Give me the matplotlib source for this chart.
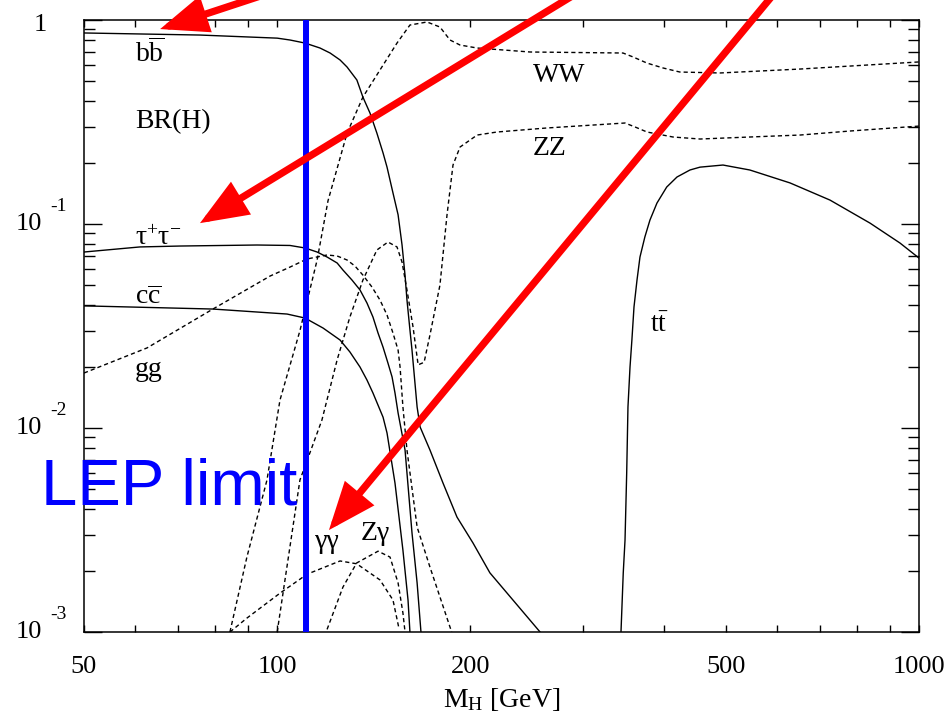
import matplotlib
matplotlib.use("Agg")
import matplotlib.pyplot as plt
from matplotlib.patches import FancyArrowPatch

plt.rcParams['font.family'] = ['Liberation Serif', 'DejaVu Serif']
plt.rcParams['mathtext.fontset'] = 'custom'
plt.rcParams['mathtext.rm'] = 'Liberation Serif'
plt.rcParams['mathtext.it'] = 'Liberation Serif:italic'

# Higgs branching ratios vs. mass (GeV)
bb_m = [50, 75.8, 100, 104.7, 110.5, 116.6, 120.9, 125.3, 128.5, 133.1, 136, 139.5,
        143, 146.2, 148.3, 151.5, 154.3, 156.5, 158.2, 159.3, 161, 162.2, 165.2, 167,
        173, 181.3, 190.6, 201.9, 214.5, 256.8]
bb_br = [0.864, 0.844, 0.815, 0.798, 0.771, 0.729, 0.689, 0.637, 0.588, 0.508, 0.419,
         0.350, 0.279, 0.223, 0.190, 0.142, 0.111, 0.079, 0.056, 0.0424, 0.0303,
         0.0241, 0.01268, 0.01011, 0.0078, 0.00537, 0.00366, 0.00273, 0.00195, 0.001]

tau_m = [50, 61.1, 70.6, 93, 104.7, 110.5, 115.4, 119.6, 124, 126.6, 130.8, 134.6,
         138, 141, 143.6, 146.2, 148.8, 151, 152.6, 154.3, 158.2, 162.2, 165.2, 167.5]
tau_br = [0.0729, 0.0772, 0.078, 0.0789, 0.0785, 0.0763, 0.0729, 0.0689, 0.0644,
          0.0595, 0.0531, 0.0475, 0.041, 0.035, 0.0292, 0.0249, 0.0208, 0.0178,
          0.01485, 0.01185, 0.0078, 0.00306, 0.00174, 0.001]

cc_m = [50, 79.4, 103.6, 110.5, 117.9, 125.3, 129.8, 134.6, 138, 141, 146.2, 148.3,
        152.6, 157, 159.9, 161]
cc_br = [0.0397, 0.0383, 0.0362, 0.0346, 0.0309, 0.027, 0.0236, 0.0199, 0.01719,
         0.01485, 0.0113, 0.00945, 0.00537, 0.00252, 0.001435, 0.001]

gg_m = [50, 62.7, 79.4, 97.5, 104.7, 111.3, 119.6, 124, 128.5, 132.2, 136, 140.5,
        144.6, 148.3, 151.5, 154.3, 155.4, 157, 159.3, 165.2, 173, 187]
gg_br = [0.0186, 0.0247, 0.0383, 0.0556, 0.0615, 0.0674, 0.0705, 0.0697, 0.0666,
         0.0622, 0.0562, 0.0491, 0.0424, 0.0358, 0.0292, 0.0241, 0.0199, 0.01268,
         0.0078, 0.00327, 0.00208, 0.001]

ww_m = [84.4, 89.7, 96.4, 101, 108.5, 115.4, 120, 128.5, 136, 144.6, 153.7, 161, 171.2,
        179.3, 185.9, 192.7, 204.9, 247.7, 345.8, 358.5, 376.9, 399.2, 424, 489.7,
        652.6, 1000]
ww_br = [0.001, 0.00233, 0.00556, 0.0137, 0.030, 0.0666, 0.13, 0.279, 0.419, 0.569,
         0.771, 0.945, 0.978, 0.924, 0.798, 0.754, 0.729, 0.697, 0.689, 0.659, 0.615,
         0.582, 0.556, 0.55, 0.575, 0.623]

zz_m = [100, 108.5, 117.4, 124, 129.8, 136, 143, 148.8, 153.7, 156.5, 159.3, 162.8,
        165.8, 169.4, 173, 179.3, 183.9, 187.9, 192.7, 204.9, 220, 263, 348.3, 362,
        376.9, 413.7, 455.8, 545, 652.6, 781, 1000]
zz_br = [0.001, 0.00556, 0.01094, 0.0216, 0.035, 0.0531, 0.0746, 0.0816, 0.0772, 0.0651,
         0.0475, 0.0313, 0.0204, 0.021, 0.0286, 0.0502, 0.1107, 0.1946, 0.2384, 0.273,
         0.2825, 0.2956, 0.3127, 0.298, 0.2825, 0.267, 0.261, 0.267, 0.273, 0.2857,
         0.302]

aa_m = [84.4, 89.7, 101, 111.3, 125.3, 133, 144.6, 151.5, 154.8]
aa_br = [0.001, 0.00117, 0.00155, 0.00192, 0.00223, 0.00216, 0.0018, 0.001435, 0.00104]

za_m = [119.6, 126.6, 133, 143.6, 149.9, 154.3, 157, 158.2]
za_br = [0.00103, 0.00166, 0.00218, 0.00249, 0.00233, 0.00174, 0.00124, 0.001]

tt_m = [343.3, 346.1, 348.3, 350.4, 352, 354.6, 357, 359.7, 363.6, 367.5, 374, 380.9,
        390.6, 404.5, 419.7, 439.7, 455.8, 495, 545, 629.6, 726.7, 839, 934, 1000]
tt_br = [0.001, 0.00195, 0.00282, 0.00602, 0.01268, 0.0199, 0.027, 0.0392, 0.0531,
         0.0689, 0.0864, 0.1046, 0.1267, 0.1518, 0.170, 0.184, 0.190, 0.1946, 0.184,
         0.159, 0.131, 0.101, 0.0807, 0.0681]

lep_limit = 111

fig = plt.figure(figsize=(9.48, 7.2), dpi=100)
ax = fig.add_axes([0.0886, 0.1222, 0.8808, 0.85])
ax.set_xscale('log')
ax.set_yscale('log')
ax.set_xlim(50, 1000)
ax.set_ylim(1e-3, 1)

solid = dict(color='black', lw=1.0, ls='-')
dashed = dict(color='black', lw=1.0, ls=(0, (3.0, 2.2)))
ax.plot(bb_m, bb_br, **solid)
ax.plot(tau_m, tau_br, **solid)
ax.plot(cc_m, cc_br, **solid)
ax.plot(tt_m, tt_br, **solid)
ax.plot(gg_m, gg_br, **dashed)
ax.plot(ww_m, ww_br, **dashed)
ax.plot(zz_m, zz_br, **dashed)
ax.plot(aa_m, aa_br, **dashed)
ax.plot(za_m, za_br, **dashed)

ax.axvline(lep_limit, color='#0000ff', lw=4.3, zorder=5)

# channel labels
lab = dict(fontsize=20, ha='left', va='baseline')
ax.text(60, 0.622, r'$\mathrm{b}\overline{\mathrm{b}}$', **lab)
ax.text(60, 0.296, 'BR(H)', **lab)
ax.text(60, 0.0789, r'$\mathrm{\tau^{+}\tau^{-}}$', **lab)
ax.text(60, 0.0405, r'$\mathrm{c}\overline{\mathrm{c}}$', **lab)
ax.text(60, 0.0180, 'gg', **lab)
ax.text(250, 0.497, 'WW', **lab)
ax.text(250, 0.218, 'ZZ', **lab)
ax.text(381, 0.0296, r'$\mathrm{t\bar{t}}$', **lab)
ax.text(114.5, 0.00258, 'γγ', **lab)
ax.text(135.1, 0.00283, 'Zγ', **lab)

ax.text(42.9, 0.0042, 'LEP limit', fontsize=47, color='#0000ff',
        family='Liberation Sans', ha='left', va='baseline', clip_on=False, zorder=6)

# axes, ticks
for s in ax.spines.values():
    s.set_linewidth(1.1)
ax.set_xticks([50, 100, 200, 500, 1000])
ax.set_xticklabels(['50', '100', '200', '500', '1000'])
ax.set_xticks([60, 70, 80, 90, 300, 400, 600, 700, 800, 900], minor=True)
ax.xaxis.set_minor_formatter(matplotlib.ticker.NullFormatter())
ax.tick_params(axis='x', which='both', direction='in', top=True, bottom=True,
               length=5, width=1.0, labelsize=19, pad=17)
ax.tick_params(axis='y', which='major', direction='in', left=True, right=True,
               length=13, width=1.0, labelleft=False)
ax.tick_params(axis='y', which='minor', direction='in', left=True, right=True,
               length=8, width=1.0, labelleft=False)

# decade labels written as 10 with a raised exponent
ytr = ax.get_yaxis_transform()
for v, sup in [(1e-1, '-1'), (1e-2, '-2'), (1e-3, '-3')]:
    ax.text(-0.0503, v, '10', transform=ytr, fontsize=19, ha='right', va='center')
    ax.text(-0.0407, v * 1.225, sup, transform=ytr, fontsize=14, ha='left', va='center')
ax.text(-0.0443, 0.945, '1', transform=ytr, fontsize=19, ha='right', va='center')

ax.set_xlabel(r'M$_\mathrm{H}$ [GeV]', fontsize=20, labelpad=6)

# red pointers
arrows = [((100.5, 1.403), (65.7, 0.903)),
          ((298.5, 1.403), (75.8, 0.101)),
          ((601, 1.403), (120.4, 0.00316))]
for tail, tip in arrows:
    ar = FancyArrowPatch(tail, tip, transform=ax.transData,
                         arrowstyle='-|>,head_length=2.5,head_width=1.0',
                         mutation_scale=10, color='#ff0000', lw=5.2,
                         shrinkA=0, shrinkB=0, clip_on=False, zorder=10,
                         joinstyle='miter')
    ax.add_patch(ar)

fig.savefig('out.png', dpi=100)
